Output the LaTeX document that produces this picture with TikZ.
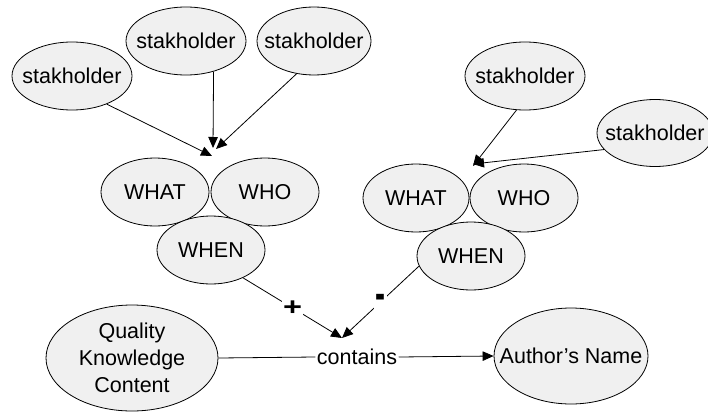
\documentclass[tikz,border=0pt]{standalone}
\usepackage{fontspec}
\setmainfont{Liberation Sans}
\usetikzlibrary{shapes.geometric,arrows.meta}
\definecolor{bubblefill}{RGB}{240,240,240}
% zero-width text so the ellipse keeps its fixed size
\newcommand\tight[1]{\makebox[0pt]{#1}}
\tikzset{
  bubble/.style={ellipse, draw=black, fill=bubblefill, line width=0.8pt,
    inner sep=0pt, align=center, font=\fontsize{21.5}{27}\selectfont},
  small/.style={bubble, minimum width=108pt, minimum height=68pt},
  holder/.style={bubble, minimum width=120pt, minimum height=68pt},
  link/.style={line width=0.8pt, -{Triangle[length=11pt,width=9.5pt]}},
  plain/.style={line width=0.8pt},
  sign/.style={fill=white, inner sep=1.5pt, font=\bfseries\fontsize{25}{25}\selectfont}
}
\begin{document}
\begin{tikzpicture}[x=1pt,y=-1pt]
  \useasboundingbox (0,0) rectangle (708,412);

  % left group
  \node[holder] (s1) at (72,76) {\tight{stakholder}};
  \node[holder] (s2) at (186,41) {\tight{stakholder}};
  \node[holder, minimum width=114pt] (s3) at (314,41) {\tight{stakholder}};
  \node[small] (what1) at (155,192) {\tight{WHAT}};
  \node[small] (who1) at (265,192) {\tight{WHO}};
  \node[small] (when1) at (211,250) {\tight{WHEN}};

  % right group
  \node[holder] (s4) at (525,76) {\tight{stakholder}};
  \node[holder, minimum width=116pt, minimum height=67pt] (s5) at (655,133) {\tight{stakholder}};
  \node[small, minimum width=106pt] (what2) at (416,198) {\tight{WHAT}};
  \node[small] (who2) at (524,198) {\tight{WHO}};
  \node[small] (when2) at (471,256) {\tight{WHEN}};

  % bottom row
  \node[bubble, minimum width=172pt, minimum height=106pt] (qkc) at (132,358)
    {Quality\\Knowledge\\Content};
  \node[inner xsep=1.5pt, inner ysep=0pt, font=\fontsize{21.5}{27}\selectfont] (contains) at (357,357) {contains};
  \node[bubble, minimum width=154pt, minimum height=96pt] (author) at (571,356)
    {\tight{Author’s Name}};

  % arrow ends
  \coordinate (t1) at (212,156);
  \coordinate (t2) at (213,148);
  \coordinate (t3) at (216,149);
  \coordinate (t4) at (473,166);
  \coordinate (t5) at (473,164);
  \coordinate (meet) at (342,338);

  % stakeholder arrows
  \draw[link] (s1.-39) -- (t1);
  \draw[link] (s2.-48) -- (t2);
  \draw[link] (s3.-118) -- (t3);
  \draw[link] (s4.-104) -- (t4);
  \draw[link] (s5.198) -- (t5);

  % WHEN arrows into the relation
  \draw[link] (when1.-41) -- node[sign] {\scalebox{1.3}[1.0]{+}} (meet);
  \draw[link] (when2.-169) -- node[sign] {\scalebox{1.2}[1.9]{-}} (meet);

  % relation line
  \draw[plain] (qkc.east) -- (contains.west);
  \draw[link] (contains.east) -- (author.west);
\end{tikzpicture}
\end{document}
